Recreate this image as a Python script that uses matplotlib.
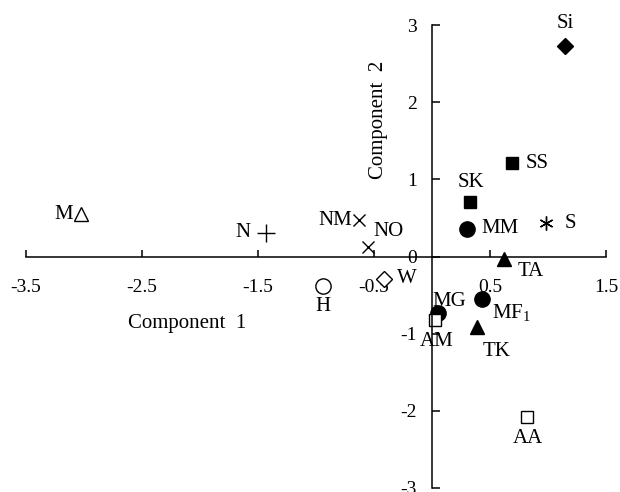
# PCA score plot: component 1 vs component 2
import matplotlib
matplotlib.use('Agg')
from matplotlib import pyplot as plt

plt.rcParams['font.family'] = ['Liberation Serif', 'DejaVu Serif']
plt.rcParams['mathtext.fontset'] = 'custom'
plt.rcParams['mathtext.rm'] = 'Liberation Serif'

names = ['Si', 'SS', 'SK', 'MM', 'S', 'TA', 'MF$_{\\mathrm{1}}$', 'TK', 'MG', 'AM',
         'AA', 'W', 'H', 'NO', 'NM', 'N', 'M']
comp1 = [1.15, 0.69, 0.33, 0.30, 0.98, 0.62, 0.43, 0.39, 0.05, 0.03,
         0.82, -0.41, -0.94, -0.55, -0.63, -1.43, -3.03]
comp2 = [2.73, 1.21, 0.70, 0.36, 0.43, -0.03, -0.55, -0.92, -0.73, -0.82,
         -2.08, -0.29, -0.38, 0.12, 0.47, 0.31, 0.55]

xticks = [-3.5, -2.5, -1.5, -0.5, 0.5, 1.5]
yticks = [-3, -2, -1, 0, 1, 2, 3]

# marker, filled?, size, label offset (px), ha
style = {
    'Si': ('D', True, 8, (0, 22), 'center'),
    'SS': ('s', True, 9, (14, 0), 'left'),
    'SK': ('s', True, 9, (1, 20), 'center'),
    'MM': ('o', True, 11, (15, 0), 'left'),
    'S': ((6, 2, 0), True, 10, (19, 0), 'left'),
    'TA': ('^', True, 10, (14, -13), 'left'),
    'MF$_{\\mathrm{1}}$': ('o', True, 11, (10, -14), 'left'),
    'TK': ('^', True, 10, (5, -24), 'left'),
    'MG': ('o', True, 11, (-5, 11), 'left'),
    'AM': ('s', False, 9, (1, -22), 'center'),
    'AA': ('s', False, 9, (1, -21), 'center'),
    'W': ('D', False, 8, (13, 0), 'left'),
    'H': ('o', False, 11, (0, -21), 'center'),
    'NO': ('x', True, 9, (5, 16), 'left'),
    'NM': ('x', True, 9, (-7, 0), 'right'),
    'N': ('+', True, 13, (-16, 0), 'right'),
    'M': ('^', False, 10, (-8, 0), 'right'),
}

fig = plt.figure(figsize=(6.2, 4.92), dpi=100)
ax = fig.add_axes([26/620, 4/492, 580/620, 463/492])

for nm, x, y in zip(names, comp1, comp2):
    mk, filled, ms, (dx, dy), ha = style[nm]
    ax.plot(x, y, linestyle='none', marker=mk, markersize=ms,
            markerfacecolor='black' if filled else 'white',
            markeredgecolor='black', markeredgewidth=1.0, clip_on=False)
    ax.annotate(nm, (x, y), xytext=(dx*0.72, dy*0.72), textcoords='offset points',
                ha=ha, va='center', fontsize=15)

ax.set_xlim(-3.5, 1.5)
ax.set_ylim(-3, 3)
ax.spines['left'].set_position(('data', 0))
ax.spines['bottom'].set_position(('data', 0))
ax.spines['top'].set_visible(False)
ax.spines['right'].set_visible(False)
for s in ['left', 'bottom']:
    ax.spines[s].set_linewidth(1.1)
ax.set_xticks(xticks)
ax.set_xticklabels([str(t) for t in xticks])
ax.set_yticks(yticks)
ax.set_yticklabels([str(t) for t in yticks])
ax.tick_params(axis='x', direction='in', length=5, width=1.1, pad=16, labelsize=14)
ax.tick_params(axis='y', direction='in', length=5.5, width=1.1, pad=11, labelsize=14)

ax.text(0.278, 0.356, 'Component  1', transform=ax.transAxes, ha='center', va='center', fontsize=15)
ax.text(0.607, 0.795, 'Component  2', transform=ax.transAxes, ha='center', va='center',
        fontsize=15, rotation=90)

fig.savefig('out.png', dpi=100)
